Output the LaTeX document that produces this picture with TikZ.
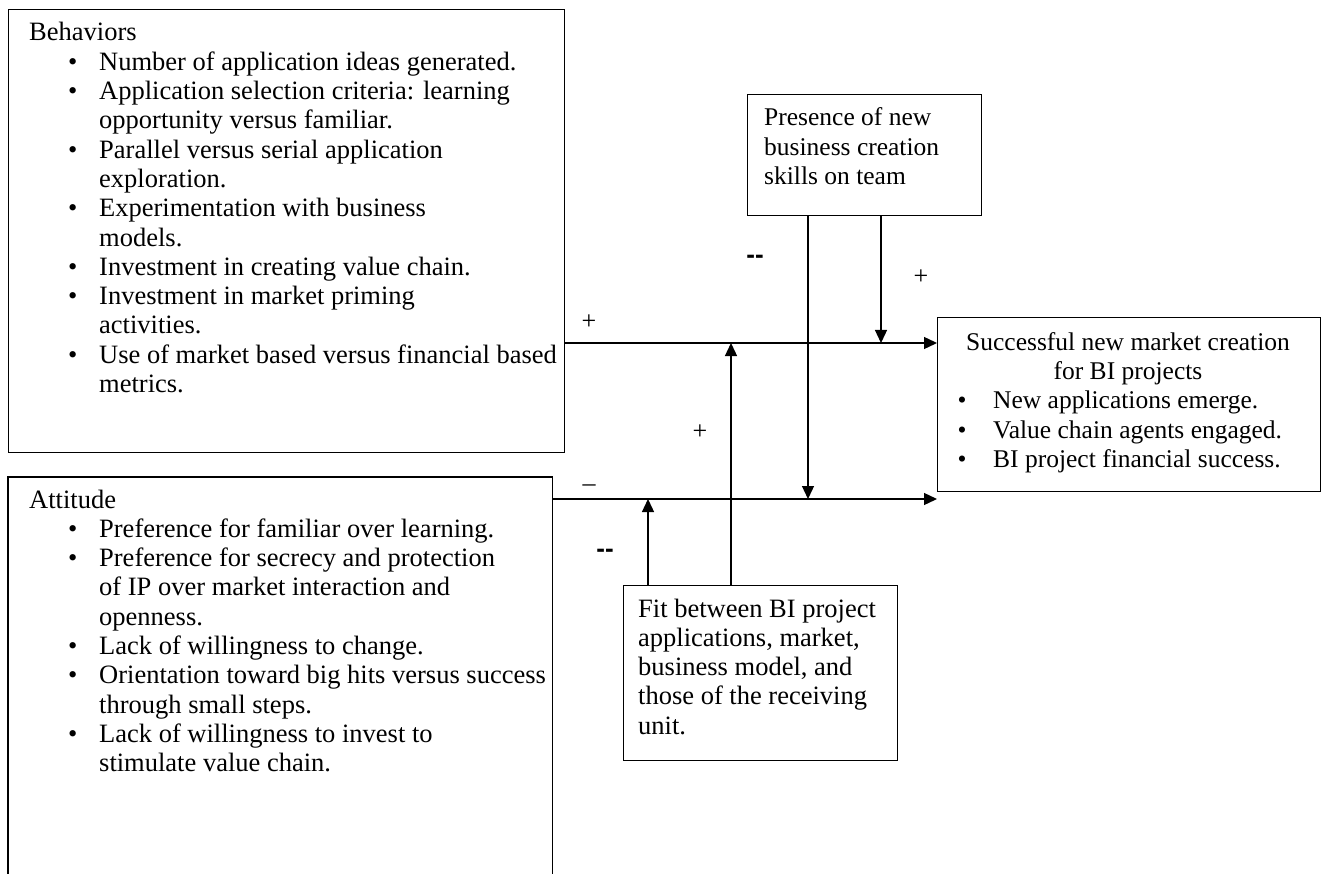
\documentclass[tikz,border=0pt]{standalone}
\usepackage{fontspec}
\setmainfont{Liberation Serif}
\newfontfamily\dashfont{Liberation Sans}
\usetikzlibrary{arrows.meta}
\newcommand\bul{\makebox[70pt][l]{\hspace{39pt}\textbullet}}
\newcommand\ind{\hspace*{70pt}}
\newcommand\bulS{\makebox[43pt][l]{\hspace{7.5pt}\textbullet}}
\begin{document}
\begin{tikzpicture}[x=1pt,y=-1pt,
  box/.style={draw, line width=1.3pt, inner sep=0pt, anchor=north west},
  txt/.style={anchor=base west, inner sep=0pt, font=\fontsize{25.5}{29.4}\selectfont},
  bigtxt/.style={txt, font=\fontsize{26.5}{29.3}\selectfont},
  arr/.style={-{Triangle[length=13pt,width=12pt]}, line width=1.3pt},
  sign/.style={inner sep=0pt, font=\fontsize{26}{29.4}\selectfont},
  dsign/.style={inner sep=0pt, font=\fontsize{26}{29.4}\dashfont\bfseries}]
\useasboundingbox (0,0) rectangle (1327,874);
% boxes
\node[box, minimum width=556pt, minimum height=443pt] (beh) at (8,9) {};
\node[inner sep=0pt, anchor=north west, minimum width=544pt, minimum height=400pt] (att) at (8,477) {};
\draw[line width=1.3pt] (att.south west) -- (att.north west) -- (att.north east) -- (att.south east);
\node[box, minimum width=234pt, minimum height=121pt] (pres) at (747,94) {};
\node[box, minimum width=383pt, minimum height=174pt] (succ) at (937,317) {};
\node[box, minimum width=274pt, minimum height=175pt] (fit) at (623,585) {};
% texts
\node[bigtxt] (behT) at (29,41) {\begin{tabular}[t]{@{}l@{}}
Behaviors\\
\bul Number of application ideas generated.\\
\bul Application selection criteria: learning\\
\ind opportunity versus familiar.\\
\bul Parallel versus serial application\\
\ind exploration.\\
\bul Experimentation with business\\
\ind models.\\
\bul Investment in creating value chain.\\
\bul Investment in market priming\\
\ind activities.\\
\bul Use of market based versus financial based\\
\ind metrics.
\end{tabular}};
\node[bigtxt] (attT) at (29,508) {\begin{tabular}[t]{@{}l@{}}
Attitude\\
\bul Preference for familiar over learning.\\
\bul Preference for secrecy and protection\\
\ind of IP over market interaction and\\
\ind openness.\\
\bul Lack of willingness to change.\\
\bul Orientation toward big hits versus success\\
\ind through small steps.\\
\bul Lack of willingness to invest to\\
\ind stimulate value chain.
\end{tabular}};
\node[txt] (presT) at (764,126) {\begin{tabular}[t]{@{}l@{}}
Presence of new\\ business creation\\ skills on team
\end{tabular}};
\node[txt, anchor=base] (succH) at (1128,350) {\begin{tabular}[t]{@{}c@{}}
Successful new market creation\\ for BI projects
\end{tabular}};
\node[txt] (succT) at (950,408.8) {\begin{tabular}[t]{@{}l@{}}
\bulS New applications emerge.\\
\bulS Value chain agents engaged.\\
\bulS BI project financial success.
\end{tabular}};
\node[bigtxt] (fitT) at (638,617) {\begin{tabular}[t]{@{}l@{}}
Fit between BI project\\ applications, market,\\ business model, and\\ those of the receiving\\ unit.
\end{tabular}};
% connectors
\draw[arr] (beh.east |- 0,343) -- (succ.west |- 0,343);
\draw[arr] (att.east |- 0,499) -- (succ.west |- 0,499);
\draw[arr] (fit.north -| 648,0) -- (648,499);
\draw[arr] (fit.north -| 731,0) -- (731,343);
\draw[arr] (pres.south -| 808,0) -- (808,499);
\draw[arr] (pres.south -| 881,0) -- (881,343);
% signs
\node[sign] (s1) at (589,322) {+};
\node[dsign] (s2) at (755,259) {-{}-};
\node[sign] (s3) at (921,277) {+};
\node[sign] (s4) at (700,432) {+};
\node[sign] (s5) at (589,488) {–};
\node[dsign] (s6) at (605,553) {-{}-};
\end{tikzpicture}
\end{document}
